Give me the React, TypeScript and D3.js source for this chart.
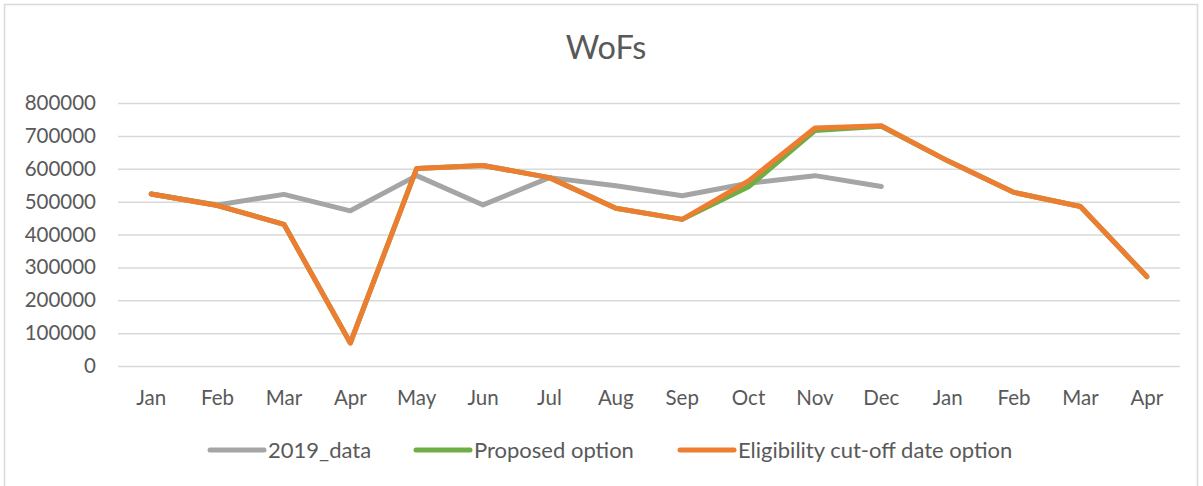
import React, { useEffect, useRef } from 'react';
import * as d3 from 'd3';

const months = ['Jan', 'Feb', 'Mar', 'Apr', 'May', 'Jun', 'Jul', 'Aug', 'Sep', 'Oct', 'Nov', 'Dec', 'Jan', 'Feb', 'Mar', 'Apr'];

const data2019 = [523000, 490000, 522000, 472000, 579000, 490000, 573000, 548000, 518000, 556000, 579000, 546000];
const proposed = [523000, 488000, 431000, 70000, 601000, 610000, 573000, 480000, 446000, 545000, 716000, 729000, 624000, 528000, 485000, 272000];
const eligibility = [523000, 488000, 431000, 70000, 601000, 610000, 573000, 480000, 446000, 563000, 724000, 731000, 624000, 528000, 485000, 272000];

const yTicks = [0, 100000, 200000, 300000, 400000, 500000, 600000, 700000, 800000];

const seriesList = [
  { name: '2019_data', values: data2019, color: '#A5A5A5', width: 5 },
  { name: 'Proposed option', values: proposed, color: '#70AD47', width: 5 },
  { name: 'Eligibility cut-off date option', values: eligibility, color: '#ED7D31', width: 5 },
];

const App = () => {
  const svgRef = useRef<SVGSVGElement>(null);

  useEffect(() => {
    const width = 1203;
    const height = 486;
    const margin = { top: 103, right: 23, bottom: 120, left: 118 };
    const font = 'Lato, "Open Sans", sans-serif';
    const textColor = '#595959';

    const svg = d3.select(svgRef.current)
      .attr('width', width)
      .attr('height', height);

    svg.selectAll('*').remove();

    // chart frame
    svg.append('rect')
      .attr('x', 0).attr('y', 0)
      .attr('width', width).attr('height', height)
      .style('fill', '#fff');
    svg.append('path')
      .attr('d', `M4.5,${height} V4.5 H1197.5 V${height}`)
      .style('fill', 'none')
      .style('stroke', '#D9D9D9')
      .style('stroke-width', 1.5);

    const innerW = width - margin.left - margin.right;

    const x = d3.scaleBand<number>()
      .domain(months.map((_, i) => i))
      .range([margin.left, margin.left + innerW]);

    const y = d3.scaleLinear()
      .domain([0, 800000])
      .range([366, 103]);

    const cx = (i: number) => (x(i) as number) + x.bandwidth() / 2;

    // gridlines + y labels
    const yAxis = svg.append('g')
      .attr('transform', `translate(${margin.left}, 0)`)
      .call(d3.axisLeft(y).tickValues(yTicks).tickSize(-innerW).tickPadding(22).tickFormat(d3.format('d')));
    yAxis.select('.domain').remove();
    yAxis.selectAll('.tick line')
      .style('stroke', '#D9D9D9')
      .style('stroke-width', 1.5);
    yAxis.selectAll('.tick text')
      .style('font-family', font)
      .style('font-size', '20.5px')
      .style('fill', textColor);

    // x labels
    svg.append('g')
      .selectAll('text')
      .data(months)
      .join('text')
      .attr('x', (_, i) => cx(i))
      .attr('y', 405)
      .attr('text-anchor', 'middle')
      .style('font-family', font)
      .style('font-size', '20.5px')
      .style('fill', textColor)
      .text(d => d);

    const line = d3.line<number>()
      .x((_, i) => cx(i))
      .y(d => y(d));

    seriesList.forEach(s => {
      svg.append('path')
        .datum(s.values)
        .attr('d', line)
        .style('fill', 'none')
        .style('stroke', s.color)
        .style('stroke-width', s.width)
        .style('stroke-linejoin', 'round')
        .style('stroke-linecap', 'round');
    });

    // title
    svg.append('text')
      .attr('x', 606)
      .attr('y', 59)
      .attr('text-anchor', 'middle')
      .style('font-family', font)
      .style('font-size', '32.5px')
      .style('fill', textColor)
      .text('WoFs');

    // legend
    const legendX = [210, 416, 680];
    const legend = svg.append('g');
    seriesList.forEach((s, i) => {
      legend.append('line')
        .attr('x1', legendX[i]).attr('x2', legendX[i] + 54)
        .attr('y1', 450).attr('y2', 450)
        .style('stroke', s.color)
        .style('stroke-width', 5)
        .style('stroke-linecap', 'round');
      legend.append('text')
        .attr('x', legendX[i] + 58)
        .attr('y', 458)
        .style('font-family', font)
        .style('font-size', '22px')
        .style('fill', textColor)
        .text(s.name);
    });
  }, []);

  return (
    <svg ref={svgRef} style={{ position: 'absolute', left: 0, top: 0, display: 'block' }}></svg>
  );
};

export default App;
